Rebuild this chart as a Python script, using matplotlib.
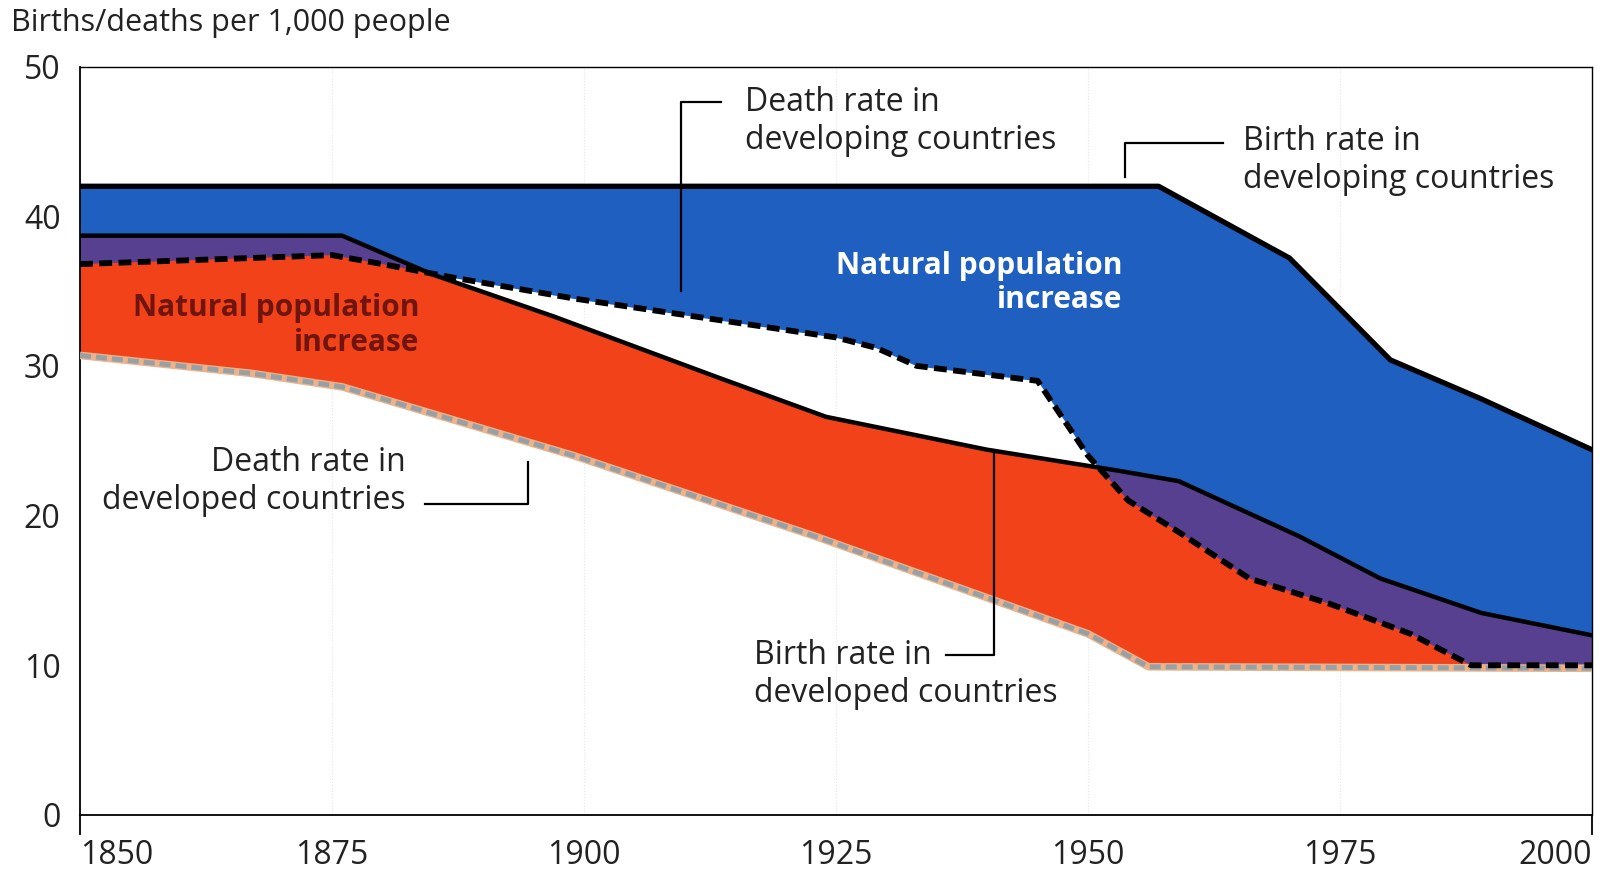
import numpy as np
import matplotlib
matplotlib.use("Agg")
import matplotlib.pyplot as plt

plt.rcParams['font.family'] = ['Open Sans', 'DejaVu Sans']

# ---- data ----
yrs_birth_ing = [1850, 1957, 1970, 1980, 1989, 2000]
birth_developing = [42.0, 42.0, 37.2, 30.4, 27.8, 24.4]

yrs_death_ing = [1850, 1875, 1880, 1887, 1899, 1911, 1925, 1929, 1933, 1945,
                 1950, 1954, 1959, 1966, 1974, 1982, 1988, 2000]
death_developing = [36.8, 37.4, 36.8, 35.9, 34.5, 33.3, 31.9, 31.2, 30.0, 29.0,
                    24.0, 21.0, 18.9, 15.8, 14.1, 12.1, 10.0, 10.0]

yrs_birth_ed = [1850, 1876, 1885, 1897, 1913, 1924, 1940, 1953, 1959, 1971, 1979, 1989, 2000]
birth_developed = [38.7, 38.7, 36.1, 33.3, 29.3, 26.6, 24.4, 23.0, 22.3, 18.6, 15.8, 13.5, 12.0]

yrs_death_ed = [1850, 1867, 1876, 1899, 1923, 1950, 1956, 2000]
death_developed = [30.7, 29.5, 28.6, 24.0, 18.6, 12.1, 9.9, 9.8]

x_ticks = [1850, 1875, 1900, 1925, 1950, 1975, 2000]
y_ticks = [0, 10, 20, 30, 40, 50]

BLUE = '#1f5fc0'
RED = '#f2421a'
PURPLE = '#57408f'
DARKRED = '#6e1510'
TXT = '#222222'

fig = plt.figure(figsize=(16.04, 8.75), dpi=100)
ax = fig.add_axes([0.0499, 0.0686, 0.9426, 0.8554])

# common grid from union of breakpoints (piecewise-linear series)
xs = np.unique(np.concatenate([yrs_birth_ing, yrs_death_ing, yrs_birth_ed, yrs_death_ed]))
xs = np.union1d(xs, np.linspace(1850, 2000, 601))
bi = np.interp(xs, yrs_birth_ing, birth_developing)
di = np.interp(xs, yrs_death_ing, death_developing)
be = np.interp(xs, yrs_birth_ed, birth_developed)
de = np.interp(xs, yrs_death_ed, death_developed)

ax.fill_between(xs, di, bi, color=BLUE, lw=0, zorder=1)
ax.fill_between(xs, de, be, color=RED, lw=0, zorder=1)
ax.fill_between(xs, di, be, where=be > di, interpolate=True, color=PURPLE, lw=0, zorder=2)

# faint vertical guides
for xv in x_ticks[1:-1]:
    ax.axvline(xv, color='#e6e6e6', lw=0.8, ls=':', zorder=0)

# lines
ax.plot(yrs_death_ed, death_developed, color='#ebb38c', lw=5.5, zorder=3, solid_capstyle='butt')
ax.plot(yrs_death_ed, death_developed, color='#97a1a5', lw=3.6, ls=(0, (2.2, 1.0)), zorder=4)
ax.plot(yrs_birth_ed, birth_developed, color='black', lw=3.2, zorder=5)
ax.plot(yrs_death_ing, death_developing, color='black', lw=4.2, ls=(0, (2.2, 1.1)), zorder=5)
ax.plot(yrs_birth_ing, birth_developing, color='black', lw=3.8, zorder=5)

ax.set_xlim(1850, 2000)
ax.set_ylim(0, 50)
ax.set_xticks(x_ticks)
ax.set_yticks(y_ticks)
ax.set_xticklabels([str(v) for v in x_ticks], fontsize=23, color=TXT)
ax.set_yticklabels([str(v) for v in y_ticks], fontsize=23, color=TXT)
ax.tick_params(axis='x', length=0, pad=17)
ax.tick_params(axis='y', length=0, pad=14)
xl = ax.get_xticklabels()
xl[0].set_ha('left')
xl[-1].set_ha('right')
for s in ax.spines.values():
    s.set_color('black')
    s.set_linewidth(1.3)
ax.spines['top'].set_linewidth(1.0)
ax.spines['right'].set_linewidth(1.0)

# end tick extensions
ax.plot([1850, 1850], [0, -1.3], color='black', lw=1.3, clip_on=False)
ax.plot([2000, 2000], [0, -1.3], color='black', lw=1.3, clip_on=False)

fig.text(0.007, 0.974, 'Births/deaths per 1,000 people', fontsize=22, color=TXT,
         ha='left', va='center')

tk = dict(fontsize=23, color=TXT, linespacing=1.2, va='center')
lk = dict(color='black', lw=1.6, clip_on=False, zorder=6)

# Death rate in developing countries
ax.text(1916.0, 46.3, 'Death rate in\ndeveloping countries', ha='left', **tk)
ax.plot([1913.6, 1909.6, 1909.6], [47.6, 47.6, 35.0], **lk)

# Birth rate in developing countries
ax.text(1965.4, 43.7, 'Birth rate in\ndeveloping countries', ha='left', **tk)
ax.plot([1963.4, 1953.7, 1953.7], [44.9, 44.9, 42.6], **lk)

# Death rate in developed countries
ax.text(1882.3, 22.3, 'Death rate in\ndeveloped countries', ha='right', **tk)
ax.plot([1884.2, 1894.4, 1894.4], [20.8, 20.8, 23.6], **lk)

# Birth rate in developed countries
ax.text(1916.9, 9.36, 'Birth rate in\ndeveloped countries', ha='left', **tk)
ax.plot([1935.9, 1940.7, 1940.7], [10.7, 10.7, 24.4], **lk)

# Natural population increase labels
ax.text(1953.4, 35.55, 'Natural population\nincrease', ha='right', va='center', fontsize=21.5,
        fontweight='bold', color='white', linespacing=1.2, zorder=7)
ax.text(1883.7, 32.7, 'Natural population\nincrease', ha='right', va='center', fontsize=21.5,
        fontweight='bold', color=DARKRED, linespacing=1.2, zorder=7)

fig.savefig('out.png', dpi=100)
